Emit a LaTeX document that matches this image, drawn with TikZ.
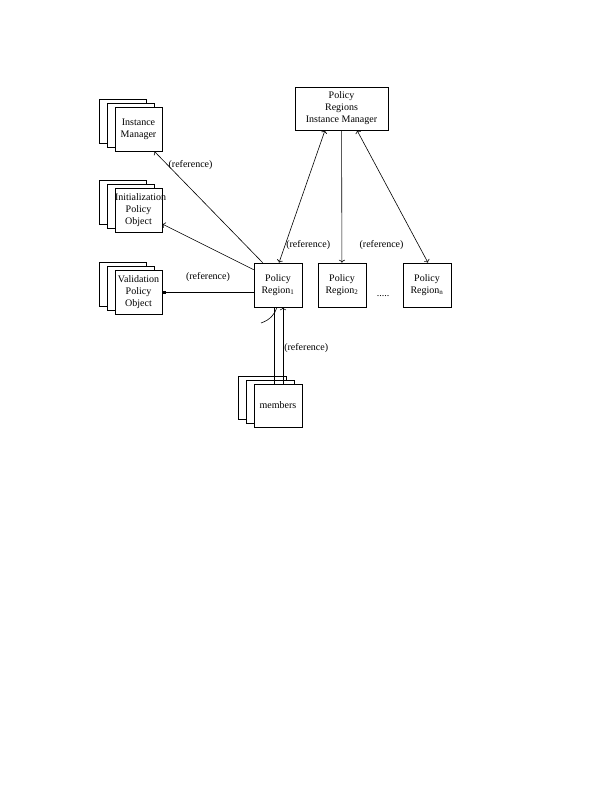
\documentclass[tikz,border=0pt]{standalone}
\usepackage{fontspec}
\setmainfont{Liberation Serif}
\usetikzlibrary{arrows.meta,positioning,shadows}

\tikzset{
  box/.style={draw, fill=white, align=center, inner sep=0pt,
    minimum width=48pt, minimum height=44pt,
    font=\fontsize{10}{12}\selectfont},
  stack/.style={box, minimum width=47pt, text width=47pt,
    copy shadow={shadow xshift=-16pt, shadow yshift=8pt},
    copy shadow={shadow xshift=-8pt, shadow yshift=4pt}},
  reflabel/.style={font=\fontsize{10}{12}\selectfont, inner sep=1pt},
}

\begin{document}
\begin{tikzpicture}[x=1pt, y=-1pt, node distance=64pt, on grid, auto, semithick]
                \useasboundingbox (0,0) rectangle (612,792);

                \node[box, minimum width=93pt, minimum height=43pt] (pim) at (341.5,108.5) {Policy\\Regions\\Instance Manager};
                \node[box] (r1) at (278,285) {Policy\\Region\textsubscript{1}};
                \node[box, right=of r1]      (r2) {Policy\\Region\textsubscript{2}};
                \node[box, right=85pt of r2] (rn) {Policy\\Region\textsubscript{n}};
                \node[font=\fontsize{10}{12}\selectfont] (dots) at (383,296) {.....};

                \node[stack] (im) at (138.5,129) {Instance\\Manager};
                \node[stack, below=81pt of im]   (ipo) {Initialization\\Policy\\Object};
                \node[stack, below=82.5pt of ipo] (vpo) {Validation\\Policy\\Object};
                \node[stack, minimum width=48pt, text width=48pt, minimum height=43pt] (mem) at (278,405.5) {members};
                \coordinate (cv) at (261,323);

                \path[<->] ([xshift=-16.5pt]pim.south) edge node[reflabel, pos=0.87, right] {(reference)} ([xshift=1pt]r1.north);
                \path[->] (pim) edge (r2);
                \path[<->] ([xshift=15.5pt]pim.south) edge node[reflabel, pos=0.87, left=14pt] {(reference)} ([xshift=1pt]rn.north);
                \path[->] ([xshift=9pt]r1.north west) edge node[reflabel, pos=0.88, right] {(reference)} ([xshift=-8pt]im.south east);
                \path[->] ([yshift=-7pt]r1.north west) edge ([yshift=-14pt]ipo.east);
                \path[-{Square[length=3pt,width=3pt]}] (r1.west |- vpo.east) edge node[reflabel, pos=0.5, above=10pt] {(reference)} (vpo.east);
                \path[-] ([xshift=-4pt]mem.north) edge ([xshift=-4pt]r1.south);
                \path[->] ([xshift=5pt]mem.north) edge node[reflabel, pos=0.47, right] {(reference)} ([xshift=5pt]r1.south);
                \draw (cv) .. controls (270,320) and (275,314) .. ([xshift=-1pt]r1.south);
            \end{tikzpicture}
\end{document}
